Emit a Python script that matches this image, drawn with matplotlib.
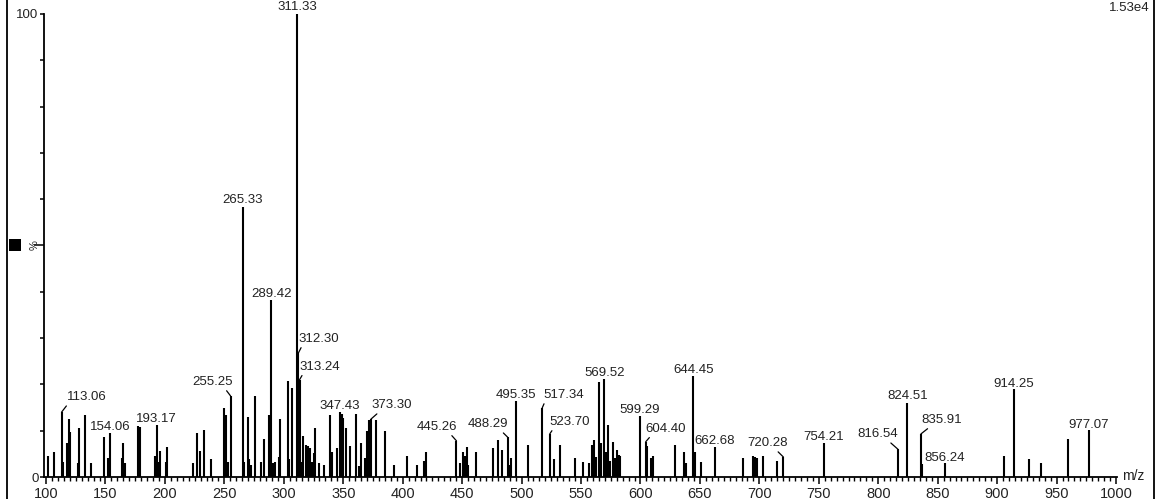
import numpy as np
import matplotlib
matplotlib.use('Agg')
import matplotlib.pyplot as plt
from matplotlib.patches import Rectangle
from matplotlib.lines import Line2D

plt.rcParams['font.family'] = ['Liberation Sans', 'DejaVu Sans']

# peak list (m/z, relative intensity %)
peak_mz = [101.7, 107.0, 113.06, 114.0, 117.9, 119.0, 120.5, 126.6, 128.0, 132.8,
           137.6, 148.5, 151.9, 153.0, 154.06, 163.7, 165.0, 166.5, 177.6, 179.0,
           191.4, 193.17, 194.5, 195.9, 200.6, 202.0, 223.4, 226.7, 229.5, 232.5,
           239.0, 249.7, 251.4, 252.8, 255.25, 265.33, 266.5, 269.5, 270.9, 272.6,
           275.8, 280.5, 283.6, 287.8, 289.42, 291.0, 292.5, 296.0, 297.1, 303.2,
           304.7, 306.5, 311.33, 312.30, 313.24, 315.0, 315.9, 318.7, 320.3, 322.0,
           323.6, 325.3, 326.5, 329.9, 334.0, 338.9, 340.3, 345.0, 347.43, 348.6,
           349.9, 352.3, 355.7, 360.5, 363.6, 364.8, 368.0, 369.8, 371.9, 373.30,
           377.3, 385.1, 392.7, 403.3, 412.3, 417.9, 419.3, 445.26, 448.2, 451.0,
           452.4, 453.8, 455.2, 461.7, 475.7, 480.4, 483.2, 488.29, 489.6, 491.1,
           495.35, 505.4, 517.34, 523.70, 527.5, 532.6, 544.9, 551.9, 557.0, 559.5,
           561.2, 562.3, 564.9, 567.1, 569.52, 570.7, 572.7, 574.4, 577.2, 578.9,
           580.0, 581.7, 583.1, 599.29, 604.40, 605.8, 608.8, 610.8, 629.0, 636.6,
           638.3, 644.45, 646.0, 650.9, 662.68, 685.9, 694.9, 696.3, 698.2, 703.0,
           715.0, 720.28, 754.21, 816.54, 824.51, 835.91, 836.5, 856.24, 906.0, 914.25,
           927.0, 936.6, 959.3, 977.07]
peak_int = [4.5, 5.5, 14.0, 3.3, 7.4, 12.5, 9.8, 3.1, 10.6, 13.4,
            3.0, 8.7, 4.2, 3.0, 9.5, 4.2, 7.4, 3.0, 11.0, 10.7,
            4.5, 11.2, 3.3, 5.7, 3.3, 6.5, 3.0, 9.6, 5.7, 10.1,
            3.8, 14.8, 13.4, 3.3, 17.5, 58.3, 3.3, 12.9, 3.8, 2.6,
            17.6, 3.3, 8.1, 13.4, 38.2, 3.0, 3.3, 4.3, 12.5, 20.7,
            3.8, 19.2, 100.0, 26.8, 21.0, 3.3, 8.9, 6.9, 6.6, 6.2,
            3.3, 5.1, 10.5, 3.0, 2.6, 13.4, 5.5, 6.2, 14.0, 13.6,
            12.8, 10.5, 6.6, 13.5, 2.4, 7.4, 4.0, 10.0, 12.3, 12.5,
            12.3, 10.0, 2.5, 4.5, 2.5, 3.5, 5.5, 7.8, 3.0, 5.5,
            4.5, 6.5, 2.5, 5.5, 6.2, 8.0, 5.8, 8.6, 2.6, 4.0,
            16.4, 6.9, 14.9, 9.3, 3.8, 6.9, 4.2, 3.3, 3.0, 6.9,
            8.0, 4.3, 20.6, 7.3, 21.2, 5.5, 11.2, 3.5, 7.6, 4.0,
            5.8, 4.8, 4.5, 13.2, 7.6, 6.7, 4.2, 4.5, 6.9, 5.3,
            3.0, 21.8, 5.3, 3.3, 6.5, 4.2, 4.6, 4.4, 4.2, 4.6,
            3.5, 4.3, 7.3, 6.0, 16.0, 9.3, 2.8, 3.0, 4.5, 19.0,
            3.8, 3.0, 8.1, 10.1]

label_mz = [113.06, 154.06, 193.17, 255.25, 265.33, 289.42, 311.33, 312.30, 313.24,
            347.43, 373.30, 445.26, 488.29, 495.35, 517.34, 523.70, 569.52, 599.29,
            604.40, 644.45, 662.68, 720.28, 754.21, 816.54, 824.51, 835.91, 856.24,
            914.25, 977.07]

base_peak = '1.53e4'

# label placement: dx, dy (pixels from peak top), alignment, leader start (None = no leader)
label_pos = {
    113.06: (5, 12, 'left', 0.05), 154.06: (0, 3, 'center', None),
    193.17: (0, 3, 'center', None), 255.25: (2, 11, 'right', 0.8),
    265.33: (0, 4, 'center', None), 289.42: (0, 3, 'center', None),
    311.33: (0, 4, 'center', None), 312.30: (0, 11, 'left', 0.1),
    313.24: (0, 10, 'left', 0.1), 347.43: (0, 3, 'center', None),
    373.30: (1, 11, 'left', 0.2), 445.26: (1, 11, 'right', 0.8),
    488.29: (1, 10, 'right', 0.8), 495.35: (0, 3, 'center', None),
    517.34: (1, 10, 'left', 0.05), 523.70: (0, 9, 'left', 0.1),
    569.52: (0, 3, 'center', None), 599.29: (0, 3, 'center', None),
    604.40: (0, 10, 'left', 0.15), 644.45: (0, 3, 'center', None),
    662.68: (0, 3, 'center', None), 720.28: (4, 11, 'right', 0.7),
    754.21: (0, 3, 'center', None), 816.54: (0, 12, 'right', 0.75),
    824.51: (0, 4, 'center', None), 835.91: (0, 11, 'left', 0.25),
    856.24: (0, 2, 'center', None), 914.25: (0, 2, 'center', None),
    977.07: (0, 2, 'center', None),
}

W, H = 1169, 499
fig = plt.figure(figsize=(W / 100, H / 100), dpi=100)
ax = fig.add_axes([44 / W, 1 - 477 / H, (1116.6 - 44) / W, (477 - 14) / H])

ax.vlines(peak_mz, 0, peak_int, color='black', lw=1.5)
ax.set_xlim(98.3, 1000.5)
ax.set_ylim(0, 100)

for s in ['top', 'right']:
    ax.spines[s].set_visible(False)
for s in ['left', 'bottom']:
    ax.spines[s].set_linewidth(1.3)

ax.set_xticks(np.arange(100, 1001, 50))
ax.set_xticks(np.arange(100, 1001, 5), minor=True)
ax.set_yticks(np.arange(0, 101, 10))
ax.set_yticklabels(['0'] + [''] * 9 + ['100'])
ax.tick_params(axis='x', which='major', length=5, width=1.1, pad=2, labelsize=10.5, labelcolor='#222222')
ax.tick_params(axis='x', which='minor', length=3, width=1.0)
ax.tick_params(axis='y', which='major', length=3, width=1.1, pad=1, labelsize=9.5, labelcolor='#222222')
ax.yaxis.get_major_ticks()[5].tick1line.set_markersize(7)

mz_arr = np.array(peak_mz)
int_arr = np.array(peak_int)
for m in label_mz:
    h = int_arr[np.argmin(np.abs(mz_arr - m))]
    dx, dy, ha, rp = label_pos[m]
    arrow = None
    if rp is not None:
        arrow = dict(arrowstyle='-', lw=0.9, color='black', shrinkA=0, shrinkB=0, relpos=(rp, 0))
    ax.annotate('%.2f' % m, xy=(m, h), xytext=(dx, dy), textcoords='offset pixels',
                ha=ha, va='baseline', fontsize=9.5, color='#222222', arrowprops=arrow)

fig.text(1122 / W, 1 - 476 / H, 'm/z', ha='left', va='center', fontsize=10, color='#222222')
fig.text(1150 / W, 1 - 8 / H, base_peak, ha='right', va='center', fontsize=9.5, color='#222222')
fig.text(35 / W, 1 - 245 / H, '%', rotation=90, ha='center', va='center', fontsize=8, color='#222222')
fig.patches.append(Rectangle((9 / W, 1 - 251 / H), 12 / W, 12 / H, transform=fig.transFigure,
                             facecolor='black', edgecolor='none'))
fig.lines.append(Line2D([7 / W, 7 / W], [0, 1], transform=fig.transFigure, color='black', lw=1.3))
fig.lines.append(Line2D([1154 / W, 1154 / W], [0, 1], transform=fig.transFigure, color='black', lw=1.3))

fig.savefig('out.png', dpi=100)
